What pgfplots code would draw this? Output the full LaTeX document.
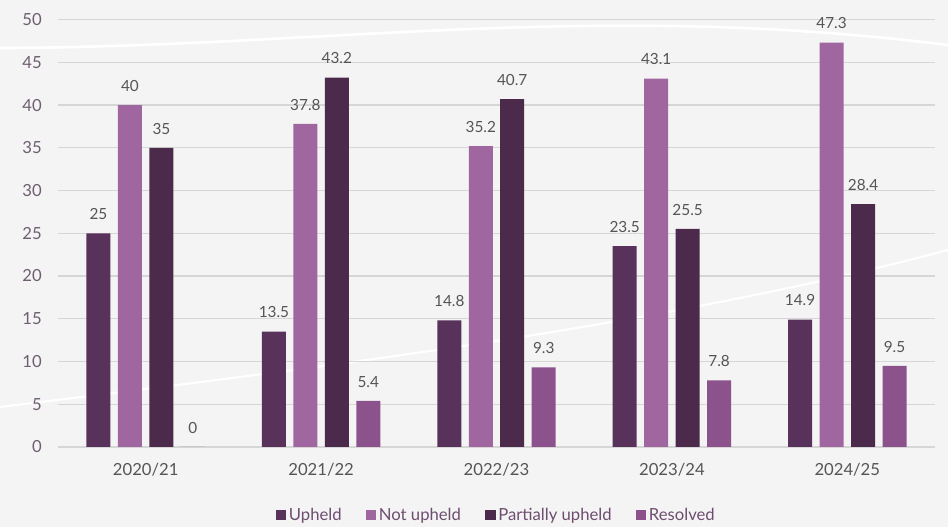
\documentclass[border=0pt]{standalone}
\usepackage{pgfplots}
\pgfplotsset{compat=1.18}
\usepackage{fontspec}
\setmainfont{Lato}
\definecolor{bg}{HTML}{F4F4F4}
\definecolor{cUp}{HTML}{58325A}
\definecolor{cNot}{HTML}{A066A0}
\definecolor{cPart}{HTML}{4C2A4C}
\definecolor{cRes}{HTML}{8C528C}
\definecolor{gridc}{HTML}{D6D6D6}
\definecolor{tickc}{HTML}{6E5E70}
\definecolor{labc}{HTML}{555558}
\definecolor{legc}{HTML}{6E4E70}
\begin{document}
\begin{tikzpicture}
\useasboundingbox (-43.5pt,-60pt) rectangle (667.5pt,335.25pt);
\fill[bg] (-43.5pt,-60pt) rectangle (667.5pt,335.25pt);
\draw[white, line width=2pt] (-43.5pt,299.25pt) .. controls (200pt,300pt) and (400pt,335pt) .. (667.5pt,301.5pt);
\draw[white, line width=1.6pt] (-43.5pt,30pt) .. controls (200pt,60pt) and (450pt,90pt) .. (667.5pt,147.75pt);
\begin{axis}[
  at={(0pt,0pt)}, anchor=south west,
  scale only axis,
  width=657.75pt, height=320.6pt,
  ymin=0, ymax=50, xmin=-0.5, xmax=4.5,
  ytick={0,5,...,50},
  xtick={0,1,2,3,4},
  xticklabels={2020/21,2021/22,2022/23,2023/24,2024/25},
  major tick length=0pt,
  axis line style={draw=none},
  ymajorgrids, grid style={gridc, line width=0.8pt},
  /pgf/number format/assume math mode=true,
  yticklabel style={font=\fontsize{12.5}{14}\selectfont, text=tickc, anchor=east, inner sep=0pt, xshift=-12pt},
  xticklabel style={font=\fontsize{12.5}{14}\selectfont, text=labc, anchor=north, inner sep=0pt, yshift=-12pt},
  ybar=5.6pt, bar width=18pt,
  nodes near coords,
  nodes near coords style={font=\fontsize{11.5}{13}\selectfont, text=labc, anchor=south, inner sep=0pt, yshift=10pt,
    /pgf/number format/fixed, /pgf/number format/precision=1},
  legend style={at={(axis description cs:0.5,-0.159)}, anchor=center, draw=none, fill=none,
    font=\fontsize{12.5}{14}\selectfont, text=legc, legend columns=4,
    /tikz/every even column/.append style={column sep=16pt}},
  legend image code/.code={\fill[#1] (0pt,-4pt) rectangle (8pt,4pt);},
]
\addplot[fill=cUp, draw=none] coordinates {(0,25) (1,13.5) (2,14.8) (3,23.5) (4,14.9)};
\addplot[fill=cNot, draw=none] coordinates {(0,40) (1,37.8) (2,35.2) (3,43.1) (4,47.3)};
\addplot[fill=cPart, draw=none] coordinates {(0,35) (1,43.2) (2,40.7) (3,25.5) (4,28.4)};
\addplot[fill=cRes, draw=none] coordinates {(0,0) (1,5.4) (2,9.3) (3,7.8) (4,9.5)};
\legend{Upheld, Not upheld, Partially upheld, Resolved}
\end{axis}
\end{tikzpicture}
\end{document}
